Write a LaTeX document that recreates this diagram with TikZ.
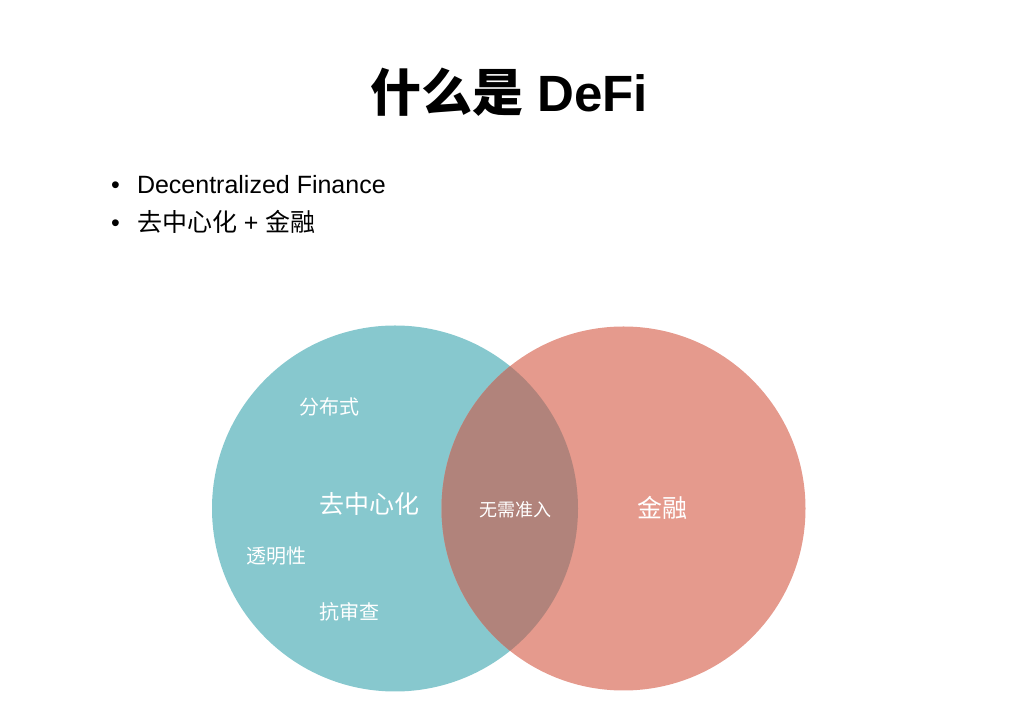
\documentclass[tikz,border=0pt]{standalone}
\usepackage{fontspec}
\setmainfont{Liberation Sans}
\newfontfamily\cjk{Noto Sans CJK SC}
\usepackage{tikz}
\usetikzlibrary{positioning}
\usepackage{xcolor}
\definecolor{tealset}{RGB}{135,200,206}
\definecolor{salmonset}{RGB}{229,154,141}
\definecolor{overlapset}{RGB}{177,131,123}

\begin{document}
\begin{tikzpicture}[x=1pt, y=1pt,
every node/.style = {inner sep=0pt, outer sep=0pt},
  label/.style = {text=white, font=\cjk\fontsize{20}{20}\selectfont},
  biglabel/.style = {text=white, font=\cjk\fontsize{25}{25}\selectfont},
  item/.style = {anchor=base west, font=\fontsize{25}{25}\selectfont}
]
\useasboundingbox (0,0) rectangle (1020,706);

% the two sets and their overlap
\coordinate (decentral) at (395,197.5);
\coordinate (finance) at (623.5,197.5);
\fill[tealset] (decentral) circle [radius=183];
\fill[salmonset] (finance) circle [radius=182];
\begin{scope}
    \clip (decentral) circle [radius=183];
    \fill[overlapset] (finance) circle [radius=182];
\end{scope}

% title and bullets
\node[anchor=base, font=\bfseries\fontsize{51}{51}\selectfont] (title) at (509,594)
    {{\cjk 什么是} DeFi};
\node[item] (dot1) at (111,512) {•};
\node[item] (item1) at (137,512) {Decentralized Finance};
\node[item] (dot2) at (111,474) {•};
\node[item] (item2) at (137,474) {{\cjk 去中心化} + {\cjk 金融}};

% labels in the sets
\node[label] (distributed) at (329,299) {分布式};
\node[biglabel] (center) at (369,202) {去中心化};
\node[label] (transparent) at (276,150) {透明性};
\node[label] (censor) at (349,94) {抗审查};
\node[label, font=\cjk\fontsize{18}{18}\selectfont] (open) at (515,196) {无需准入};
\node[biglabel] (money) at (662,198) {金融};
\end{tikzpicture}
\end{document}
